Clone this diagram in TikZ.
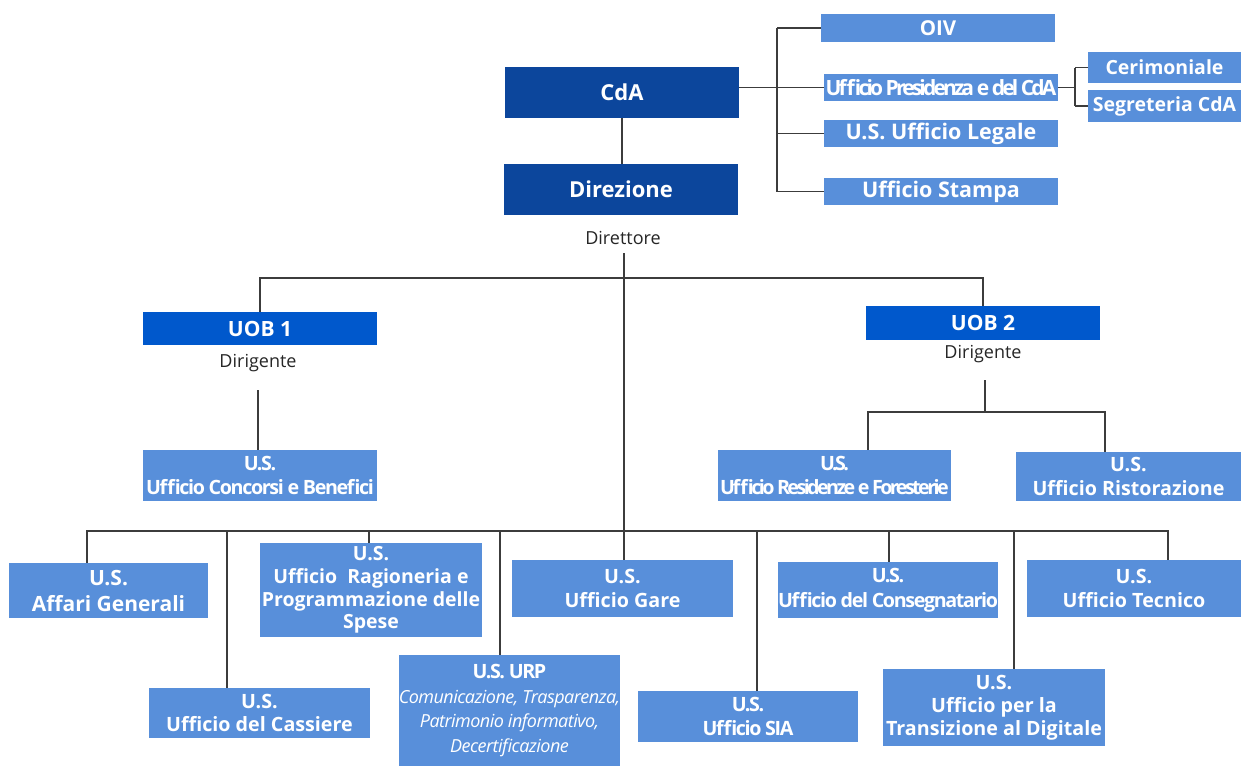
\documentclass[tikz,border=0pt]{standalone}
\usepackage{fontspec}
\setmainfont{Open Sans}
\newfontfamily\condfont[LetterSpace=-7]{Open Sans}
\newfontfamily\tightfont[LetterSpace=-13]{Open Sans}
\newfontfamily\presfont[LetterSpace=-13.5]{Open Sans}
\newfontfamily\urpfont[LetterSpace=-3]{Open Sans}
\definecolor{cdark}{RGB}{12,70,156}
\definecolor{cuob}{RGB}{0,88,204}
\definecolor{clight}{RGB}{88,143,218}
\definecolor{cline}{RGB}{60,60,60}
\begin{document}
\begin{tikzpicture}[x=1pt,y=-1pt,
  box/.style={rectangle, inner sep=0pt, text=white, align=center,
    font=\bfseries\fontsize{19.7}{24.5}\selectfont},
  darkbox/.style={box, fill=cdark, font=\bfseries\fontsize{22}{26}\selectfont},
  uobbox/.style={box, fill=cuob, font=\bfseries\fontsize{21}{25}\selectfont},
  lbox/.style={box, fill=clight},
  topbox/.style={box, fill=clight, font=\bfseries\fontsize{21.5}{25}\selectfont},
  sidebox/.style={box, fill=clight, font=\bfseries\fontsize{19.5}{23}\selectfont},
  role/.style={inner sep=0pt, text=black!85, font=\fontsize{18}{21}\selectfont},
  conn/.style={draw=cline, line width=1.4pt}]
\useasboundingbox[fill=white] (0,0) rectangle (1241,766);

% top
\node[darkbox, minimum width=234, minimum height=51] (cda) at (622,92.5) {CdA};
\node[darkbox, minimum width=234, minimum height=51] (dirz) at (621,189.5) {Direzione};
\node[role] (dirt) at (623,238) {Direttore};

\node[topbox, minimum width=234, minimum height=28, font=\bfseries\fontsize{20.5}{24}\selectfont] (oiv) at (938,28) {OIV};
\node[topbox, minimum width=234, minimum height=27, font=\bfseries\fontsize{21}{24}\selectfont] (pres) at (941,87.5) {\presfont Ufficio Presidenza e del CdA};
\node[sidebox, minimum width=153, minimum height=31] (cer) at (1164.5,67.5) {Cerimoniale};
\node[sidebox, minimum width=153, minimum height=32] (seg) at (1164.5,106) {Segreteria CdA};
\node[topbox, minimum width=234, minimum height=27] (leg) at (941,133.5) {U.S. Ufficio Legale};
\node[topbox, minimum width=234, minimum height=27] (stam) at (941,191.5) {Ufficio Stampa};

% UOB
\node[uobbox, minimum width=234, minimum height=33] (uob1) at (260,328.5) {UOB 1};
\node[role] (dg1) at (258,363) {Dirigente};
\node[lbox, minimum width=234, minimum height=51] (conc) at (260,475.5) {\condfont U.S.\\\condfont Ufficio Concorsi e Benefici};

\node[uobbox, minimum width=234, minimum height=34] (uob2) at (983,323) {UOB 2};
\node[role] (dg2) at (983,354) {Dirigente};
\node[lbox, minimum width=233, minimum height=51] (res) at (834.5,475.5) {\tightfont U.S.\\\tightfont Ufficio Residenze e Foresterie};
\node[lbox, minimum width=225, minimum height=49] (rist) at (1128.5,476.5) {U.S.\\Ufficio Ristorazione};

% bottom row
\node[lbox, minimum width=199, minimum height=55, font=\bfseries\fontsize{21}{26}\selectfont] (aff) at (108.5,590.5) {U.S.\\Affari Generali};
\node[lbox, minimum width=221, minimum height=50, font=\bfseries\fontsize{19.7}{23.5}\selectfont] (cass) at (259.5,713) {U.S.\\Ufficio del Cassiere};
\node[lbox, minimum width=222, minimum height=94, font=\bfseries\fontsize{19.5}{22.6}\selectfont] (rag) at (371,590) {U.S.\\Ufficio~~Ragioneria e\\Programmazione delle\\Spese};
\node[lbox, minimum width=221, minimum height=111] (urp) at (509.5,710.5) {\condfont U.S. URP\\\urpfont\mdseries\itshape\fontsize{18}{22.5}\selectfont Comunicazione, Trasparenza,\\\urpfont\mdseries\itshape\fontsize{18}{22.5}\selectfont Patrimonio informativo,\\\urpfont\mdseries\itshape\fontsize{18}{22.5}\selectfont Decertificazione};
\node[lbox, minimum width=221, minimum height=57] (gare) at (622.5,588.5) {U.S.\\Ufficio Gare};
\node[lbox, minimum width=220, minimum height=51] (sia) at (748,716.5) {\condfont U.S.\\\condfont Ufficio SIA};
\node[lbox, minimum width=220, minimum height=56] (cons) at (888,590) {\condfont U.S.\\\condfont Ufficio del Consegnatario};
\node[lbox, minimum width=222, minimum height=77, font=\bfseries\fontsize{19.7}{23}\selectfont] (trans) at (994,707.5) {U.S.\\Ufficio per la\\Transizione al Digitale};
\node[lbox, minimum width=214, minimum height=57] (tec) at (1134,588.5) {U.S.\\Ufficio Tecnico};

% connectors top
\draw[conn] (cda.south) -- (cda.south |- dirz.north);
\draw[conn] (cda.east |- pres.west) -- (pres.west);
\coordinate (bx) at (777,0);
\draw[conn] (oiv.west -| bx) -- (stam.west -| bx);
\draw[conn] (oiv.west -| bx) -- (oiv.west);
\draw[conn] (leg.west -| bx) -- (leg.west);
\draw[conn] (stam.west -| bx) -- (stam.west);
\coordinate (px) at (1075,0);
\draw[conn] (pres.east) -- (pres.east -| px);
\draw[conn] (cer.west -| px) -- (seg.west -| px);
\draw[conn] (cer.west -| px) -- (cer.west);
\draw[conn] (seg.west -| px) -- (seg.west);

% main spine
\coordinate (mtop) at (624,253);
\draw[conn] (mtop) -- (mtop |- gare.north);
\coordinate (b1) at (624,278);
\draw[conn] (uob1.north) |- (b1) -| (uob2.north);

% UOB1
\coordinate (d1a) at (258,390);
\draw[conn] (d1a) -- (d1a |- conc.north);

% UOB2
\coordinate (d2a) at (985,380);
\coordinate (d2b) at (985,412);
\draw[conn] (d2a) -- (d2b);
\coordinate (r1) at (868,412);
\coordinate (r2) at (1105,412);
\draw[conn] (r1 |- res.north) -- (r1) -- (r2) -- (r2 |- rist.north);

% bottom bar
\coordinate (bl) at (87,531);
\coordinate (br) at (1168,531);
\draw[conn] (bl |- aff.north) -- (bl) -- (br) -- (br |- tec.north);
\coordinate (t2) at (227,531);
\draw[conn] (t2) -- (t2 |- cass.north);
\coordinate (t3) at (369,531);
\draw[conn] (t3) -- (t3 |- rag.north);
\coordinate (t4) at (500,531);
\draw[conn] (t4) -- (t4 |- urp.north);
\coordinate (t6) at (757,531);
\draw[conn] (t6) -- (t6 |- sia.north);
\coordinate (t7) at (889,531);
\draw[conn] (t7) -- (t7 |- cons.north);
\coordinate (t8) at (1014,531);
\draw[conn] (t8) -- (t8 |- trans.north);
\end{tikzpicture}
\end{document}
